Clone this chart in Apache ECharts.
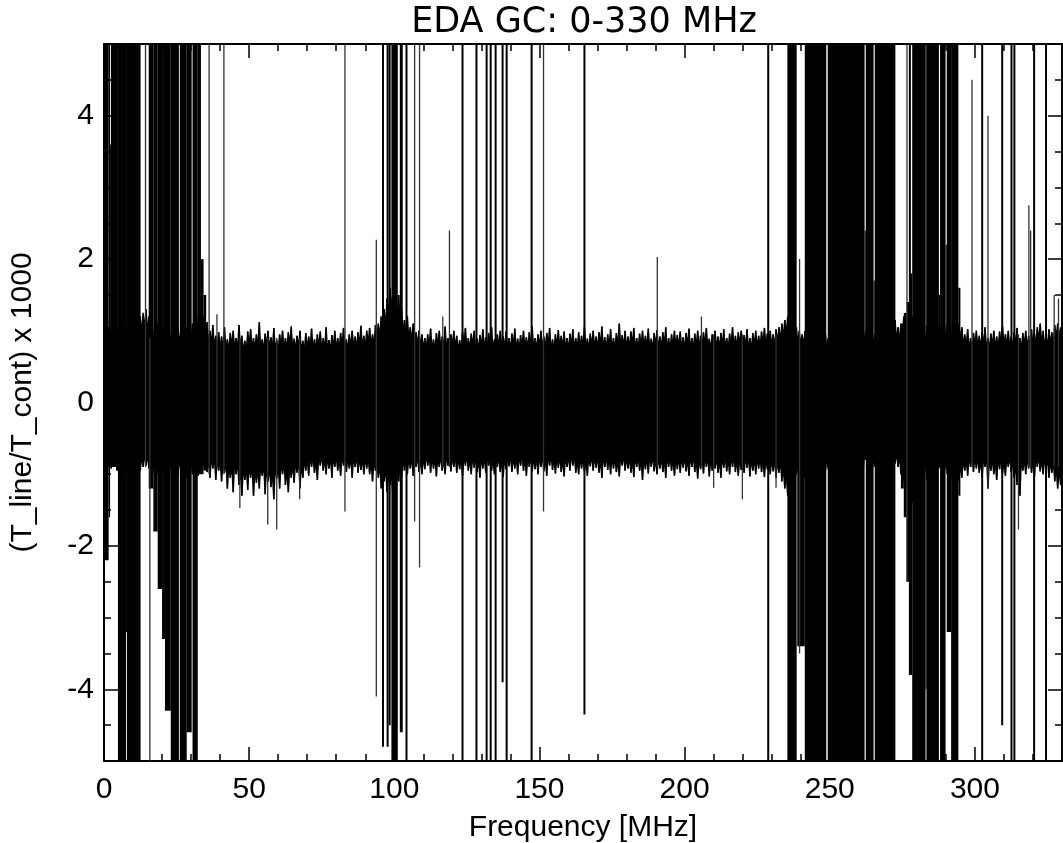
<!DOCTYPE html>
<html><head><meta charset="utf-8">
<script src="https://cdn.jsdelivr.net/npm/echarts@6/dist/echarts.min.js"></script>
<style>html,body{margin:0;padding:0;background:#fff}#c{width:1063px;height:843px}</style>
</head><body><div id="c"></div>
<script>
const titleText = 'EDA GC: 0-330 MHz';
const xName = 'Frequency [MHz]';
const yName = '(T_line/T_cont) x 1000';
const xMajorTicks = [0, 50, 100, 150, 200, 250, 300];
const yMajorTicks = [-4, -2, 0, 2, 4];
const xRange = [0, 330];
const yRange = [-5, 5];

// noise band envelope, 1 MHz bins starting at 0 MHz
const bandUpper = [
 1.1,1.05,1.0,1.1,1.02,1.1,1.0,1.08,1.05,1.1,
 1.0,1.1,1.2,1.25,1.3,1.2,1.1,1.05,1.1,1.0,
 1.05,1.1,1.0,1.08,1.1,1.05,1.0,1.1,1.05,1.08,
 1.1,1.05,1.2,1.3,1.2,1.12,1.0,1.08,0.93,0.98,
 0.92,1.05,0.88,0.97,1.0,0.9,1.08,0.93,0.86,0.99,
 1.02,0.9,0.95,1.12,0.88,0.96,1.0,0.91,1.04,0.87,
 0.95,1.0,0.9,0.98,1.06,0.89,0.93,1.0,0.86,0.97,
 0.92,1.03,0.88,0.95,0.99,0.9,1.05,0.87,0.94,1.0,
 0.9,0.97,1.04,0.88,0.95,1.0,0.92,0.98,1.07,0.93,
 1.0,1.04,0.95,1.08,1.1,1.2,1.3,1.45,1.6,1.55,
 1.4,1.5,1.3,1.15,1.2,1.05,1.1,0.98,1.0,0.95,
 0.9,0.95,1.03,0.88,0.97,1.0,0.92,1.06,0.9,0.95,
 1.0,0.93,0.87,0.98,1.04,0.9,0.96,1.0,0.89,0.94,
 1.02,0.91,0.97,1.05,0.88,0.95,1.0,0.92,0.99,0.9,
 0.96,1.03,0.89,0.94,1.0,0.91,0.98,1.06,0.9,0.95,
 1.0,0.92,0.97,1.04,0.88,0.95,1.01,0.93,0.99,0.9,
 0.96,1.02,0.9,0.98,0.93,1.05,0.89,0.96,1.0,0.92,
 0.98,1.06,0.91,0.95,1.02,0.9,0.97,1.1,0.94,1.0,
 0.92,0.99,1.04,0.9,0.96,1.0,0.93,1.03,0.89,0.97,
 1.01,0.92,0.98,1.05,0.9,0.95,1.0,0.94,0.99,0.91,
 0.97,1.03,0.9,0.96,1.0,0.93,0.98,1.04,0.89,0.95,
 1.0,0.92,0.97,1.02,0.9,0.96,1.05,0.93,0.98,1.0,
 0.94,1.02,0.9,0.97,1.0,0.93,0.99,1.04,0.96,1.0,
 0.95,1.02,1.05,1.1,1.15,1.2,1.1,1.15,1.05,1.0,
 0.95,1.0,1.1,1.05,1.1,1.0,1.05,1.1,0.95,0.9,
 1.0,1.05,1.1,1.0,1.08,1.05,1.1,1.0,1.05,1.1,
 1.0,1.05,1.0,1.08,1.0,0.95,1.05,1.1,1.0,1.05,
 1.05,1.1,1.15,1.05,1.1,1.2,1.15,1.25,1.2,1.1,
 1.05,1.1,1.0,1.08,1.05,1.1,1.0,1.05,1.1,1.05,
 1.1,1.05,1.15,1.2,1.1,1.05,0.95,1.02,0.9,0.97,
 1.0,0.93,0.98,1.05,0.9,0.96,1.0,0.92,0.99,1.06,
 0.95,1.0,0.92,0.98,1.04,0.9,0.97,1.0,0.93,1.02,
 0.96,1.05,1.1,1.0,0.94,1.02,0.98,1.08,1.1,1.05
];
const bandLower = [
 -0.95,-0.9,-0.92,-0.88,-0.95,-1.0,-0.95,-1.0,-0.9,-0.95,
 -0.92,-0.9,-0.95,-0.9,-0.88,-0.92,-1.0,-1.05,-1.0,-1.1,
 -1.0,-1.05,-1.0,-0.98,-1.02,-1.0,-0.95,-1.0,-1.05,-1.0,
 -1.0,-0.98,-1.02,-0.95,-0.9,-0.97,-1.05,-0.92,-1.08,-0.95,
 -1.1,-0.98,-1.2,-1.05,-1.25,-1.0,-1.15,-1.3,-1.08,-1.22,
 -1.05,-1.3,-1.12,-1.2,-1.02,-1.28,-1.1,-1.18,-1.35,-1.06,
 -1.2,-1.0,-1.15,-1.25,-1.05,-1.12,-0.98,-1.2,-1.05,-0.95,
 -1.02,-0.9,-0.98,-1.08,-0.88,-0.95,-1.0,-0.92,-1.05,-0.9,
 -0.95,-1.02,-0.88,-0.97,-0.92,-1.05,-0.9,-0.98,-0.94,-1.0,
 -0.92,-1.0,-1.1,-0.95,-1.05,-1.2,-1.1,-1.25,-1.15,-1.3,
 -1.2,-1.1,-1.05,-0.95,-1.0,-0.92,-1.02,-0.9,-0.97,-1.0,
 -0.93,-0.88,-0.98,-0.92,-1.03,-0.9,-0.95,-1.0,-0.88,-0.96,
 -0.9,-0.98,-0.93,-1.02,-0.88,-0.95,-1.0,-0.91,-0.97,-1.05,
 -0.92,-0.98,-0.88,-0.95,-1.0,-0.9,-0.97,-1.04,-0.93,-0.89,
 -0.97,-0.92,-1.0,-0.88,-0.95,-1.02,-0.9,-0.96,-0.93,-1.0,
 -0.9,-0.96,-1.02,-0.88,-0.94,-0.99,-0.91,-0.97,-1.03,-0.9,
 -0.95,-0.88,-0.98,-1.0,-0.92,-0.96,-1.02,-0.89,-0.95,-0.91,
 -0.98,-1.05,-0.9,-0.94,-1.0,-0.92,-0.97,-1.03,-0.88,-0.95,
 -0.92,-0.98,-1.04,-0.9,-0.95,-1.08,-0.93,-0.99,-0.9,-0.96,
 -1.0,-0.92,-0.97,-1.05,-0.9,-0.95,-1.02,-0.93,-0.98,-0.91,
 -0.96,-1.02,-0.9,-0.97,-1.06,-0.93,-0.99,-0.9,-1.03,-0.95,
 -0.92,-0.98,-1.05,-0.91,-0.96,-1.0,-0.9,-0.97,-1.02,-0.94,
 -0.98,-0.91,-1.03,-0.95,-1.0,-0.92,-0.97,-1.04,-0.93,-1.0,
 -0.96,-1.05,-0.98,-1.1,-1.2,-1.3,-1.2,-1.1,-1.0,-1.05,
 -1.0,-1.05,-1.1,-1.0,-1.05,-1.1,-1.0,-1.05,-0.95,-0.93,
 -1.0,-1.05,-0.95,-1.0,-1.05,-1.0,-0.98,-1.05,-1.0,-0.95,
 -1.0,-0.95,-0.8,-1.0,-1.05,-0.88,-1.0,-1.05,-0.98,-1.0,
 -1.0,-0.95,-0.85,-0.9,-1.0,-1.1,-1.2,-1.3,-1.4,-1.2,
 -1.1,-1.05,-1.0,-1.08,-1.05,-1.0,-0.95,-0.92,-0.9,-0.95,
 -1.0,-1.1,-1.2,-1.15,-1.1,-1.05,-0.95,-1.02,-0.9,-0.97,
 -0.92,-0.98,-1.04,-0.9,-1.2,-0.95,-1.0,-1.08,-0.93,-0.99,
 -1.02,-0.9,-0.97,-1.05,-1.15,-1.3,-0.95,-1.0,-0.92,-0.98,
 -1.04,-0.9,-0.96,-1.0,-0.93,-1.05,-0.98,-1.1,-1.2,-1.15
];

// interference regions: [fStart, fEnd, low, high]
const rfiBlocks = [
 [0.0,1.6,-2.2,5],[1.6,2.1,-1.6,5],[2.1,2.4,-0.9,3.6],[2.4,4.8,-0.9,5],
 [4.8,7.6,-5,5],[7.6,7.9,-3.2,5],[7.9,12.6,-5,5],
 [15.4,17.0,-1.2,5],[17.0,18.5,-1.8,5],[18.5,20.0,-2.6,5],[20.0,21.0,-3.3,5],
 [21.0,23.0,-4.3,5],[23.0,25.8,-5,5],[26.1,28.5,-5,5],[28.5,30.2,-4.6,5],
 [30.5,32.3,-5,5],[32.3,33.4,-1.0,5],[33.4,34.3,-1.0,2.0],[34.3,35.2,-0.95,1.5],
 [99.0,101.2,-5,5],[101.9,102.9,-4.6,5],
 [235.4,238.6,-5,5],[238.8,241.4,-3.4,0.9],[241.4,248.8,-5,5],
 [249.3,262.0,-5,5],[262.0,262.4,-0.8,2.4],[262.4,265.1,-5,5],[265.1,265.5,-0.9,1.7],
 [265.5,272.6,-5,5],
 [274.5,275.5,-1.2,1.1],[275.5,276.5,-1.6,1.25],[276.5,277.5,-2.5,1.4],[277.5,278.4,-3.8,1.8],
 [278.4,283.0,-5,5],[283.0,283.3,-4.0,5],[283.3,287.6,-5,5],[287.6,288.0,-0.9,1.5],
 [288.0,289.9,-5,5],[289.9,290.3,-0.9,2.2],[290.3,291.8,-3.2,5],[291.8,294.3,-5,5],
 [294.3,295.0,-1.3,1.6]
];

// single-channel spikes: [freq, low, high]
const spikes = [
 [14.3,-0.9,5],[15.8,-5,0.9],[36.2,-1.0,5],[38.9,-0.9,1.23],[41.3,-1.0,5],
 [46.8,-1.47,0.9],[56.4,-1.7,0.9],[59.5,-1.77,0.9],[67.4,-1.35,0.9],[83.0,-1.52,5],
 [93.8,-4.1,2.27],[96.1,-4.8,5],[97.7,-4.8,5],[98.4,-4.5,5],[104.2,-5,5],
 [107.0,-1.66,5],[108.7,-2.3,5],[116.7,-0.9,1.2],[119.0,-0.9,2.4],[123.5,-5,5],
 [128.3,-5,5],[131.8,-5,5],[133.2,-5,5],[134.9,-5,5],[137.3,-3.9,5],[138.7,-5,5],
 [147.3,-5,5],[151.4,-1.52,5],[165.5,-4.35,5],[190.6,-0.9,2.03],[205.8,-0.9,1.2],
 [210.0,-1.19,0.95],[219.9,-1.35,0.95],[228.8,-5,5],[231.5,-1.19,0.95],[239.6,-3.5,2.0],
 [276.6,-2.5,5],[277.6,-3.8,5],[299.0,-0.9,4.5],[302.5,-5,5],[304.5,-1.2,4.0],
 [309.4,-4.5,5],[312.6,-5,5],[313.6,-5,5],[315.0,-1.77,0.95],[318.6,-0.9,2.75],
 [319.2,-0.9,2.4],[320.4,-5,5],[324.5,-5,5],[327.3,-0.9,1.5],[328.8,-0.9,1.45]
];

// table for the band series: one segment per pair of neighbouring bins,
// [fThis, fNext, lowThis, highThis, lowNext, highNext] with each bin plotted at its centre
const bandData = [];
for (let i = 0; i < bandUpper.length - 1; i++) {
  bandData.push([i + 0.5, i + 1.5, bandLower[i], bandUpper[i], bandLower[i + 1], bandUpper[i + 1]]);
}

const FONT = 'Liberation Sans, Arial, sans-serif';
const chart = echarts.init(document.getElementById('c'), null, {renderer: 'canvas'});

function xAx(pos, major, withLabel) {
  return {
    type: 'value', position: pos, min: xRange[0], max: xRange[1], offset: 0,
    interval: major ? 50 : 10,
    axisLine: {show: major, onZero: false, lineStyle: {color: '#000', width: 2}},
    axisTick: {show: true, inside: true, length: major ? 14 : 7, lineStyle: {color: '#000', width: 1.5},
      customValues: major ? xMajorTicks : undefined},
    axisLabel: {show: withLabel, customValues: withLabel ? xMajorTicks : undefined, color: '#000',
      fontFamily: FONT, fontSize: 30, margin: 14},
    splitLine: {show: false},
    name: withLabel ? xName : '', nameLocation: 'middle', nameGap: 52,
    nameTextStyle: {color: '#000', fontFamily: FONT, fontSize: 30}
  };
}
function yAx(pos, major, withLabel) {
  return {
    type: 'value', position: pos, min: yRange[0], max: yRange[1], offset: 0,
    interval: 0.5,
    axisLine: {show: major, onZero: false, lineStyle: {color: '#000', width: 2}},
    axisTick: {show: true, inside: true, length: major ? 14 : 7, lineStyle: {color: '#000', width: 1.5},
      customValues: major ? yMajorTicks : undefined},
    axisLabel: {show: withLabel, customValues: withLabel ? yMajorTicks : undefined, color: '#000',
      fontFamily: FONT, fontSize: 30, margin: 10},
    splitLine: {show: false},
    name: withLabel ? yName : '', nameLocation: 'middle', nameGap: 66, nameRotate: 90,
    nameTextStyle: {color: '#000', fontFamily: FONT, fontSize: 30}
  };
}

chart.setOption({
  animation: false,
  backgroundColor: '#fff',
  graphic: [{type: 'text', x: 584, y: 23, style: {text: titleText, fill: '#000',
    font: '35px "DejaVu Sans", sans-serif', textAlign: 'center', textVerticalAlign: 'middle'}}],
  grid: {left: 104, top: 44, width: 958, height: 717, containLabel: false, outerBoundsMode: 'none'},
  xAxis: [xAx('bottom', true, true), xAx('bottom', false, false), xAx('top', true, false), xAx('top', false, false)],
  yAxis: [yAx('left', true, true), yAx('left', false, false), yAx('right', true, false), yAx('right', false, false)],
  series: [
    {type: 'custom', data: bandData, xAxisIndex: 0, yAxisIndex: 0, clip: true, silent: true, z: 2,
     encode: {x: [0, 1], y: [2, 3, 4, 5]},
     renderItem: function (params, api) {
       const f0 = api.value(0), f1 = api.value(1), fm = (f0 + f1) / 2;
       const upNotch = Math.min(api.value(3), api.value(5)) * 0.82;
       const loNotch = Math.max(api.value(2), api.value(4)) * 0.82;
       const pts = [
         api.coord([f0, api.value(3)]), api.coord([fm, upNotch]), api.coord([f1, api.value(5)]),
         api.coord([f1, api.value(4)]), api.coord([fm, loNotch]), api.coord([f0, api.value(2)])
       ];
       return {type: 'polygon', shape: {points: pts}, style: {fill: '#000', stroke: '#000', lineWidth: 1.4}};
     }},
    {type: 'custom', data: rfiBlocks, xAxisIndex: 0, yAxisIndex: 0, clip: true, silent: true, z: 3,
     encode: {x: [0, 1], y: [2, 3]},
     renderItem: function (params, api) {
       const p0 = api.coord([api.value(0), api.value(3)]);
       const p1 = api.coord([api.value(1), api.value(2)]);
       return {type: 'rect', shape: {x: p0[0], y: p0[1], width: Math.max(p1[0] - p0[0], 1), height: p1[1] - p0[1]},
         style: {fill: '#000'}};
     }},
    {type: 'custom', data: spikes, xAxisIndex: 0, yAxisIndex: 0, clip: true, silent: true, z: 4,
     encode: {x: 0, y: [1, 2]},
     renderItem: function (params, api) {
       const a = api.coord([api.value(0), api.value(2)]);
       const b = api.coord([api.value(0), api.value(1)]);
       const full = api.value(2) - api.value(1) > 8;
       return {type: 'line', shape: {x1: a[0], y1: a[1], x2: b[0], y2: b[1]},
         style: {stroke: full ? '#000' : '#333', lineWidth: full ? 2 : 1.3}};
     }}
  ]
});
</script></body></html>
